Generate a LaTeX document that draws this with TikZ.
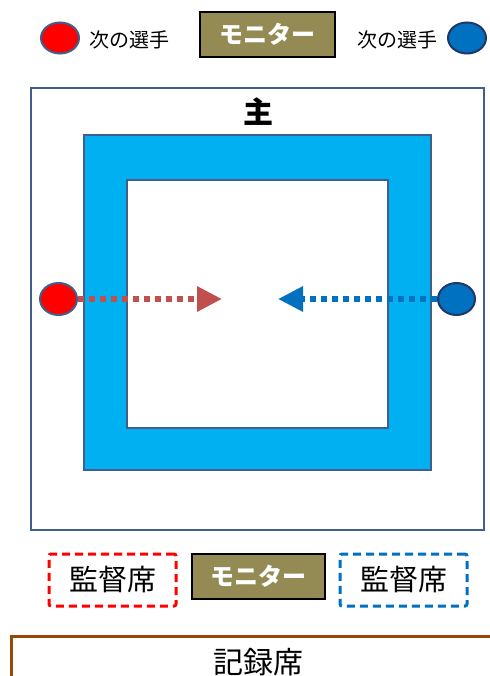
\documentclass[tikz,border=0pt]{standalone}
\usepackage{fontspec}
\setmainfont{Noto Sans CJK JP}
\newfontfamily\jp{Noto Sans CJK JP}
\usetikzlibrary{arrows.meta,shapes.geometric}
\definecolor{frameblue}{HTML}{3F5F8F}
\definecolor{skyfill}{HTML}{00B0F0}
\definecolor{olivebox}{HTML}{948A54}
\definecolor{redarrow}{HTML}{C0504D}
\definecolor{bluearrow}{HTML}{0070C0}
\definecolor{darknavy}{HTML}{1F3864}
\definecolor{brownline}{HTML}{984806}
\definecolor{dashred}{HTML}{FF0000}
\definecolor{dashblue}{HTML}{0070C0}
\tikzset{
  monitorbox/.style={draw=black, line width=1.5pt, fill=olivebox, text=white, font=\jp\bfseries},
  redplayer/.style={ellipse, draw=frameblue, line width=2pt, fill=red, minimum width=38pt, minimum height=31pt, inner sep=0pt},
  blueplayer/.style={ellipse, draw=darknavy, line width=2pt, fill=bluearrow, minimum width=38pt, minimum height=31pt, inner sep=0pt},
  movearrow/.style={line width=6pt, dash pattern=on 6pt off 5pt, -{Triangle[length=25pt,width=24pt]}},
  coachbox/.style={line width=3pt, dash pattern=on 8pt off 5pt, rounded corners=2pt, minimum width=127pt, minimum height=52pt, font=\fontsize{29}{31}\selectfont\jp},
}
\begin{document}
\begin{tikzpicture}[x=1pt,y=-1pt]
\useasboundingbox (0,0) rectangle (489,676);
\fill[white] (0,0) rectangle (489,676);
% top row
\node[redplayer] (rtop) at (60,38) {};
\node[font=\fontsize{20}{22}\selectfont\jp] (rtext) at (129,40) {次の選手};
\node[monitorbox, minimum width=135pt, minimum height=45pt, font=\fontsize{24}{26}\selectfont\jp\bfseries] (montop) at (267.5,34.5) {モニター};
\node[font=\fontsize{20}{22}\selectfont\jp] (btext) at (397,40) {次の選手};
\node[blueplayer] (btop) at (467,38) {};
% main area
\draw[frameblue, line width=2pt] (31,88) rectangle (484,530);
\node[font=\fontsize{30}{32}\selectfont\jp\bfseries] (shu) at (258,112) {主};
\draw[frameblue, line width=2pt, fill=skyfill, even odd rule] (84,135) rectangle (431,470) (127,180) rectangle (388,428);
\coordinate (rtip) at (222,299);
\coordinate (btip) at (278,299);
\node[redplayer, minimum width=37pt, minimum height=32pt] (rmid) at (58.5,299) {};
\node[blueplayer, minimum width=37pt, minimum height=32pt] (bmid) at (456.5,299) {};
\draw[movearrow, redarrow] (rmid.east) -- (rtip);
\draw[movearrow, bluearrow] (bmid.west) -- (btip);
% bottom row
\node[coachbox, draw=dashred] (coachl) at (112.5,580) {監督席};
\node[monitorbox, minimum width=133pt, minimum height=45pt, font=\fontsize{24}{26}\selectfont\jp\bfseries] (monbot) at (258.5,576.5) {モニター};
\node[coachbox, draw=dashblue] (coachr) at (403.5,580) {監督席};
% record
\draw[brownline, line width=3pt] (11,690) -- (11,636) -- (500,636);
\node[font=\fontsize{30}{32}\selectfont\jp] (record) at (258,662) {記録席};
\end{tikzpicture}
\end{document}
